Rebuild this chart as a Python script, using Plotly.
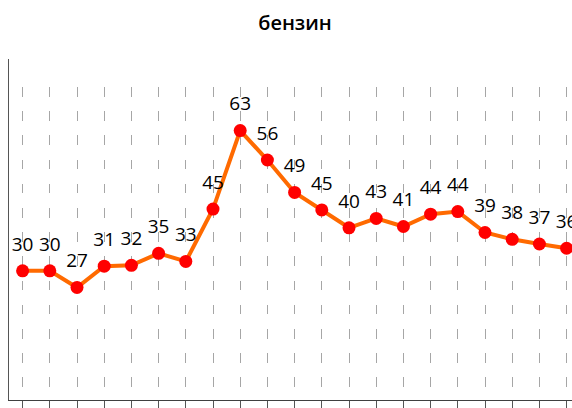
import plotly.graph_objects as go

categories = list(range(21))
values = [30.3, 30.3, 26.4, 31.4, 31.6, 34.4, 32.5, 44.8, 63.2, 56.3, 48.7, 44.6,
          40.4, 42.6, 40.7, 43.6, 44.2, 39.3, 37.7, 36.6, 35.6]
labels = ["30", "30", "27", "31", "32", "35", "33", "45", "63", "56", "49", "45",
          "40", "43", "41", "44", "44", "39", "38", "37", "36"]

W, H = 572, 408
ML, MR, MT, MB = 9, 0, 59, 8
step = 27.2
plot_w = W - ML - MR

grid_dash = "0px,28px," + ",".join(["9.5px,14.7px"] * 14)

fig = go.Figure()
fig.add_trace(go.Scatter(
    x=categories, y=values, mode="lines+markers",
    line=dict(color="#FF6A00", width=4),
    marker=dict(color="#FF0000", size=13),
    cliponaxis=False,
    hoverinfo="skip",
))
fig.add_trace(go.Scatter(
    x=categories, y=values, mode="markers+text",
    text=labels, textposition="top center",
    textfont=dict(family="Open Sans", size=19, color="#000000"),
    marker=dict(color="rgba(0,0,0,0)", size=23),
    cliponaxis=False,
    hoverinfo="skip",
))

fig.update_layout(
    width=W, height=H,
    margin=dict(l=ML, r=MR, t=MT, b=MB),
    paper_bgcolor="white", plot_bgcolor="white",
    showlegend=False,
    title=dict(text="бензин", x=(295 - ML) / plot_w, xref="paper", xanchor="center",
               y=1 - 23 / H, yref="container", yanchor="middle",
               font=dict(family="Open Sans", size=20, color="#000000", weight=600)),
    xaxis=dict(range=[-0.5, -0.5 + plot_w / step], tickmode="array", tickvals=categories,
               tickson="boundaries", ticks="outside", ticklen=9, tickcolor="#555555", tickwidth=1,
               showticklabels=False, showline=True, linecolor="#404040", linewidth=1,
               showgrid=True, gridcolor="#A6A6A6", gridwidth=1, griddash=grid_dash,
               zeroline=False, fixedrange=True),
    yaxis=dict(range=[0, 80], showticklabels=False, ticks="", showgrid=False,
               showline=True, linecolor="#555555", linewidth=1, zeroline=False,
               fixedrange=True),
)

fig.write_html(
    "out.html",
    config={"displayModeBar": False},
    post_script="document.body.style.margin='0';document.body.style.overflow='hidden';",
)
